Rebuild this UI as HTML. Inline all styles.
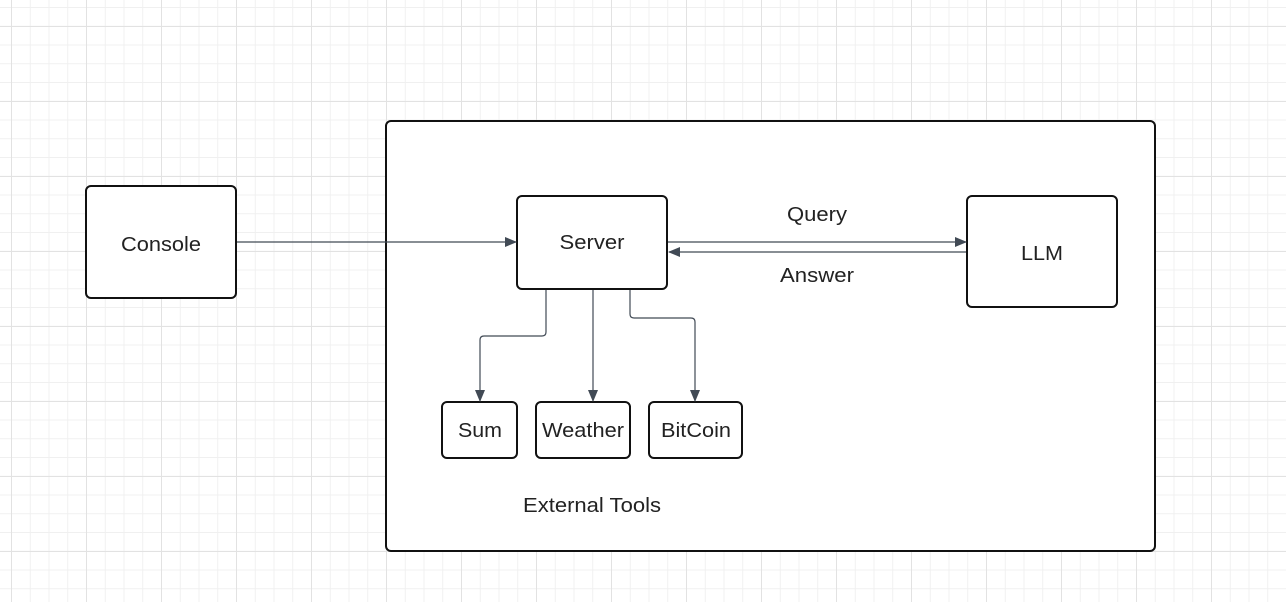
<!DOCTYPE html>
<html><head><meta charset="utf-8"><style>
html,body{margin:0;padding:0;background:#fff;}
svg{display:block;}
text{font-family:"Liberation Sans",sans-serif;fill:#222;}
</style></head><body>
<svg width="1286" height="602" viewBox="0 0 1286 602" xmlns="http://www.w3.org/2000/svg">
<defs>
<pattern id="minor" x="11" y="7" width="18.75" height="18.75" patternUnits="userSpaceOnUse">
<path d="M0.5 0V18.75M0 0.5H18.75" stroke="#f0f0f0" stroke-width="1" fill="none"/>
</pattern>
<pattern id="major" x="11" y="26" width="75" height="75" patternUnits="userSpaceOnUse">
<path d="M0.5 0V75M0 0.5H75" stroke="#e2e2e2" stroke-width="1" fill="none"/>
</pattern>
<marker id="ah" markerWidth="12" markerHeight="10" refX="11" refY="5" orient="auto" markerUnits="userSpaceOnUse">
<path d="M0 0L12 5L0 10Z" fill="#414a55"/>
</marker>
</defs>
<rect width="1286" height="602" fill="url(#minor)"/>
<rect width="1286" height="602" fill="url(#major)"/>

<rect x="386" y="121" width="769" height="430" rx="5" fill="#fff" stroke="#111" stroke-width="2"/>

<g fill="#fff" stroke="#111" stroke-width="2">
<rect x="86" y="186" width="150" height="112" rx="5"/>
<rect x="517" y="196" width="150" height="93" rx="5"/>
<rect x="967" y="196" width="150" height="111" rx="5"/>
<rect x="442" y="402" width="75" height="56" rx="5"/>
<rect x="536" y="402" width="94" height="56" rx="5"/>
<rect x="649" y="402" width="93" height="56" rx="5"/>
</g>

<g stroke="#414a55" stroke-width="1.2" fill="none">
<path d="M237 242H516" marker-end="url(#ah)"/>
<path d="M668 242H966" marker-end="url(#ah)"/>
<path d="M966 252H669" marker-end="url(#ah)"/>
<path d="M546 290V332Q546 336 542 336H484Q480 336 480 340V401" marker-end="url(#ah)"/>
<path d="M593 290V401" marker-end="url(#ah)"/>
<path d="M630 290V314Q630 318 634 318H691Q695 318 695 322V401" marker-end="url(#ah)"/>
</g>

<g font-size="20.5" text-anchor="middle" lengthAdjust="spacingAndGlyphs">
<text x="161" y="251" textLength="80" lengthAdjust="spacingAndGlyphs">Console</text>
<text x="592" y="249" textLength="65" lengthAdjust="spacingAndGlyphs">Server</text>
<text x="1042" y="260" textLength="42" lengthAdjust="spacingAndGlyphs">LLM</text>
<text x="817" y="221" textLength="60" lengthAdjust="spacingAndGlyphs">Query</text>
<text x="817" y="282" textLength="74" lengthAdjust="spacingAndGlyphs">Answer</text>
<text x="480" y="437" textLength="44" lengthAdjust="spacingAndGlyphs">Sum</text>
<text x="583" y="437" textLength="82" lengthAdjust="spacingAndGlyphs">Weather</text>
<text x="696" y="437" textLength="70" lengthAdjust="spacingAndGlyphs">BitCoin</text>
<text x="592" y="512" textLength="138" lengthAdjust="spacingAndGlyphs">External Tools</text>
</g>
</svg>
</body></html>
